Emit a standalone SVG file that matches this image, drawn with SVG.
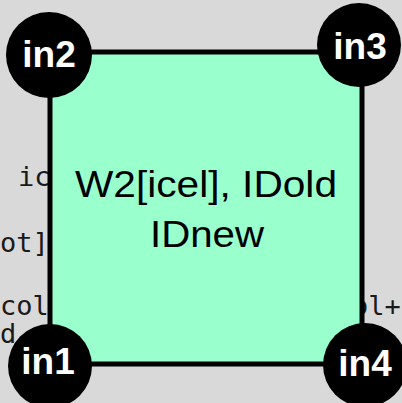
<svg xmlns="http://www.w3.org/2000/svg" width="402" height="403" viewBox="0 0 402 403">
<style>
.bgt{font-family:"DejaVu Sans Mono",monospace;font-size:27px;fill:#1a1a1a}
.cell{fill:#99ffcc;stroke:#000;stroke-width:5}
.port{fill:#000}
.plab{font-family:"Liberation Sans",Arial,sans-serif;font-weight:bold;font-size:37px;fill:#fff;text-anchor:middle}
.main{font-family:"Liberation Sans",Arial,sans-serif;font-size:36px;fill:#000}
</style>
<rect x="0" y="0" width="402" height="403" fill="#d9d9d9"/>
<g id="background-text">
<text class="bgt" x="18" y="186">ic</text>
<text class="bgt" x="0" y="252">ot]</text>
<text class="bgt" x="0" y="315">col</text>
<text class="bgt" x="352" y="315">ol+</text>
<text class="bgt" x="0" y="343">d</text>
</g>
<g id="connectors"></g>
<g id="cell">
<rect class="cell" x="50" y="52" width="312" height="312"/>
<text class="main" x="75" y="197" textLength="262" lengthAdjust="spacingAndGlyphs">W2[icel], IDold</text>
<text class="main" x="150" y="247" textLength="114" lengthAdjust="spacingAndGlyphs">IDnew</text>
</g>
<g id="in1">
<circle class="port" cx="50" cy="366" r="42"/>
<text class="plab" x="48" y="374">in1</text>
</g>
<g id="in2">
<circle class="port" cx="49" cy="55" r="43"/>
<text class="plab" x="49" y="67">in2</text>
</g>
<g id="in3">
<circle class="port" cx="359" cy="45" r="42"/>
<text class="plab" x="360" y="59">in3</text>
</g>
<g id="in4">
<circle class="port" cx="365" cy="365" r="42"/>
<text class="plab" x="365" y="376">in4</text>
</g>
</svg>
